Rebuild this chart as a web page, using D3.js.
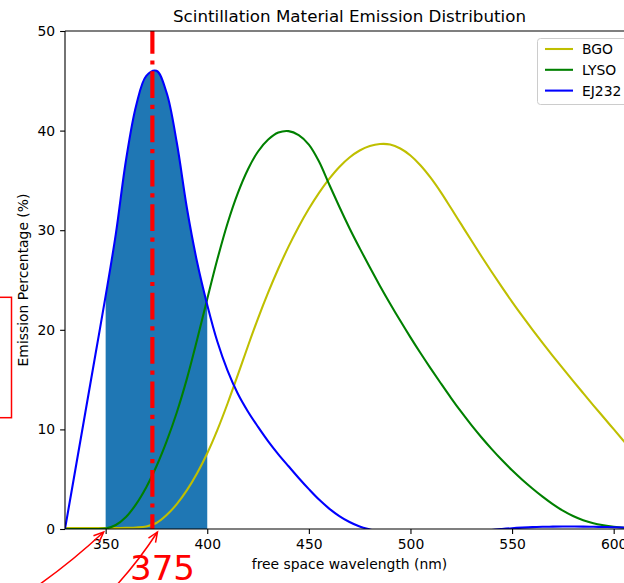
<!DOCTYPE html>
<html><head><meta charset="utf-8">
<script src="https://cdn.jsdelivr.net/npm/d3@7"></script>
<style>body{margin:0;background:#fff;overflow:hidden;} svg{display:block;font-family:"DejaVu Sans",sans-serif;}</style>
</head><body><svg id="c" width="624" height="583"></svg>
<script>
const wavelengths = [330,335,340,345,350,355,360,365,370,375,380,385,390,395,400,405,410,415,420,425,430,435,440,445,450,455,460,465,470,475,480,485,490,495,500,505,510,515,520,525,530,535,540,545,550,555,560,565,570,575,580,585,590,595,600,605,610];
const bgo = [0.1,0.1,0.1,0.1,0.1,0.1,0.12,0.15,0.25,0.6,1.4,2.5,3.9,5.6,7.6,9.95,12.6,15.45,18.35,21.15,23.75,26.15,28.35,30.35,32.15,33.75,35.15,36.35,37.3,38.0,38.45,38.65,38.6,38.2,37.5,36.5,35.25,33.8,32.2,30.58,28.96,27.36,25.8,24.28,22.81,21.39,20.02,18.69,17.39,16.12,14.87,13.64,12.42,11.22,10.02,8.82,7.62];
const lyso = [0,0,0,0,0.05,0.4,1.2,2.5,4.2,6.3,8.8,11.7,15.1,19.0,23.1,27.1,30.7,33.7,36.1,37.9,39.1,39.8,39.95,39.55,38.6,36.9,34.6,32.35,30.2,28.2,26.27,24.41,22.62,20.9,19.24,17.64,16.1,14.61,13.15,11.75,10.43,9.19,8.02,6.92,5.9,4.95,4.07,3.25,2.5,1.84,1.3,0.88,0.58,0.38,0.23,0.12,0.05];
const ej232 = [0,5.85,11.7,17.55,23.4,29.6,37.0,42.5,45.5,46.0,43.8,38.8,32.2,26.8,22.5,18.8,15.9,13.6,11.8,10.25,8.8,7.5,6.3,5.12,4.0,2.95,2.05,1.3,0.7,0.25,-0.05,-0.3,-0.5,-0.7,-0.8,-0.85,-0.85,-0.8,-0.7,-0.55,-0.4,-0.25,-0.1,0.0,0.08,0.14,0.19,0.22,0.24,0.25,0.25,0.24,0.22,0.2,0.18,0.15,0.12];
const seriesNames = ["BGO","LYSO","EJ232"];
const seriesColors = ["#bfbf00","#008000","#0000ff"];
const xTicks = [350,400,450,500,550,600];
const yTicks = [0,10,20,30,40,50];
const fillRange = [350,400];
const peakLine = 373;       // dash-dot line at EJ232 peak
const annotValue = 375;     // annotated wavelength
const annotStart = 350;
const titleText = "Scintillation Material Emission Distribution";
const xLabel = "free space wavelength (nm)";
const yLabel = "Emission Percentage (%)";

const svg = d3.select("#c");
const L = 65, R = 634, T = 31, B = 529;
const x = d3.scaleLinear().domain([330,610]).range([L,R]);
const y = d3.scaleLinear().domain([0,50]).range([B,T]);

svg.append("defs").append("clipPath").attr("id","clip")
  .append("rect").attr("x",L).attr("y",T).attr("width",R-L).attr("height",B-T);

const plot = svg.append("g").attr("clip-path","url(#clip)");
const allSeries = [bgo, lyso, ej232];
const curve = d3.curveCatmullRom.alpha(0.5);

const fillData = wavelengths.map((w,i)=>({w, v: ej232[i]})).filter(d=>d.w>=fillRange[0] && d.w<=fillRange[1]);
plot.append("path").datum(fillData)
  .attr("d", d3.area().x(d=>x(d.w)).y0(y(0)).y1(d=>y(d.v)).curve(curve))
  .attr("fill","#1f77b4");

const line = d3.line().x(d=>x(d.w)).y(d=>y(d.v)).curve(curve);
allSeries.forEach((s,k)=>{
  plot.append("path").datum(wavelengths.map((w,i)=>({w, v:s[i]})))
    .attr("d", line).attr("fill","none").attr("stroke", seriesColors[k])
    .attr("stroke-width",2.08).attr("stroke-linejoin","round");
});

plot.append("line").attr("x1",x(peakLine)).attr("x2",x(peakLine)).attr("y1",y(50)).attr("y2",y(0))
  .attr("stroke","#ff0000").attr("stroke-width",4.17)
  .attr("stroke-dasharray","26.7,6.7,4.2,6.7").attr("stroke-dashoffset",4);

const xAxis = svg.append("g").attr("transform",`translate(0,${B})`)
  .call(d3.axisBottom(x).tickValues(xTicks).tickSize(4.9).tickPadding(5).tickFormat(d3.format("d")));
const yAxis = svg.append("g").attr("transform",`translate(${L},0)`)
  .call(d3.axisLeft(y).tickValues(yTicks).tickSize(4.9).tickPadding(5).tickFormat(d3.format("d")));
[xAxis,yAxis].forEach(a=>{
  a.select(".domain").remove();
  a.selectAll(".tick line").attr("stroke","#000").attr("stroke-width",1.1);
  a.selectAll(".tick text").attr("font-size","13.9px").attr("fill","#000").attr("font-family","DejaVu Sans");
});
svg.append("line").attr("x1",L).attr("x2",L).attr("y1",T).attr("y2",B).attr("stroke","#000").attr("stroke-width",1.1);
svg.append("line").attr("x1",L).attr("x2",R).attr("y1",B).attr("y2",B).attr("stroke","#000").attr("stroke-width",1.1);
svg.append("line").attr("x1",L).attr("x2",R).attr("y1",T).attr("y2",T).attr("stroke","#000").attr("stroke-width",1.1);

svg.append("text").attr("x",(L+R)/2).attr("y",22).attr("text-anchor","middle")
  .attr("font-size","16.7px").text(titleText);
svg.append("text").attr("x",(L+R)/2).attr("y",569).attr("text-anchor","middle")
  .attr("font-size","13.9px").text(xLabel);
svg.append("text").attr("transform",`translate(28,${(T+B)/2}) rotate(-90)`).attr("text-anchor","middle")
  .attr("font-size","13.9px").text(yLabel);

const lg = svg.append("g");
lg.append("rect").attr("x",537.5).attr("y",38.5).attr("width",100).attr("height",66).attr("rx",3)
  .attr("fill","#fff").attr("fill-opacity",0.8).attr("stroke","#cccccc").attr("stroke-width",1);
seriesNames.forEach((n,k)=>{
  const yy = 49 + k*20.8;
  lg.append("line").attr("x1",545).attr("x2",573).attr("y1",yy).attr("y2",yy)
    .attr("stroke",seriesColors[k]).attr("stroke-width",2.08);
  lg.append("text").attr("x",582).attr("y",yy+5).attr("font-size","13.9px").text(n);
});

svg.append("rect").attr("x",-20).attr("y",297.3).attr("width",31.5).attr("height",120.4)
  .attr("fill","none").attr("stroke","#ff0000").attr("stroke-width",1.5);

function arrow(sx,sy,ex,ey,bow){
  const mx=(sx+ex)/2, my=(sy+ey)/2, dx=ex-sx, dy=ey-sy, len=Math.hypot(dx,dy);
  const cx = mx - bow*dy/len, cy = my + bow*dx/len;
  svg.append("path").attr("d",`M${sx},${sy}Q${cx},${cy} ${ex},${ey}`)
    .attr("fill","none").attr("stroke","#ff0000").attr("stroke-width",1.5);
  const tx = ex-cx, ty = ey-cy, tl=Math.hypot(tx,ty), ux=tx/tl, uy=ty/tl;
  const hl=10, hw=4.2;
  const bx=ex-ux*hl, by=ey-uy*hl;
  svg.append("path").attr("d",`M${bx-uy*hw},${by+ux*hw}L${ex},${ey}L${bx+uy*hw},${by-ux*hw}`)
    .attr("fill","none").attr("stroke","#ff0000").attr("stroke-width",1.5);
}
arrow(x(annotStart)-80, y(0)+65, x(annotStart)-2, y(0)+3, 4);
arrow(x(annotValue)-50, y(0)+67, x(annotValue)+1, y(0)+3, 4);

svg.append("text").attr("x",x(378)).attr("y",y(0)+51).attr("text-anchor","middle")
  .attr("font-size","34px").attr("fill","#ff0000").text(String(annotValue));
</script></body></html>
